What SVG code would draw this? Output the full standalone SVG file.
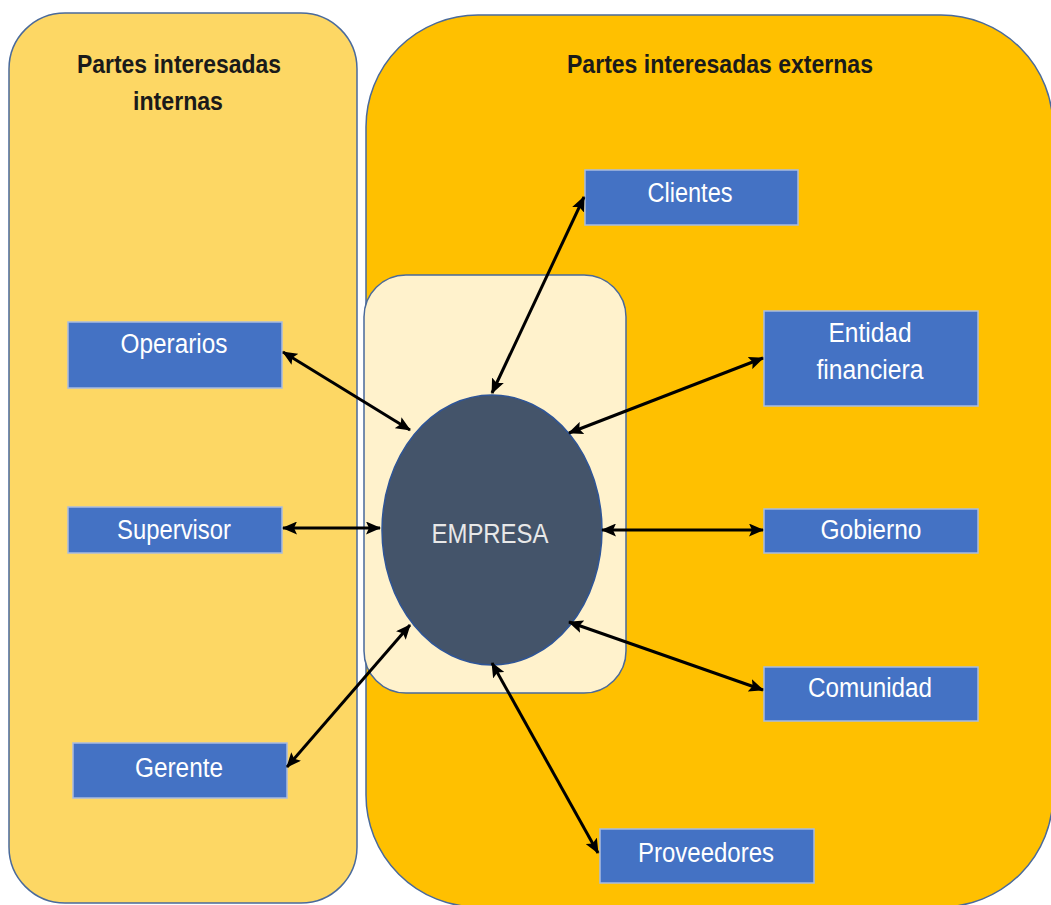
<svg xmlns="http://www.w3.org/2000/svg" width="1051" height="905" viewBox="0 0 1051 905">
<style>
.panel{stroke:#4a6a9b;stroke-width:1.5}
.box{fill:#4472c4;stroke:#a9bce0;stroke-width:1.5}
.title{font-family:"Liberation Sans",Arial,sans-serif;font-weight:bold;font-size:25px;fill:#1a1a1a;text-anchor:middle}
.lbl{font-family:"Liberation Sans",Arial,sans-serif;font-size:27px;fill:#ffffff;text-anchor:middle}
.conn line{stroke:#000;stroke-width:3;marker-start:url(#ah);marker-end:url(#ah)}
</style>
<defs>
<marker id="ah" markerUnits="userSpaceOnUse" markerWidth="15" markerHeight="13" viewBox="0 0 15 13" refX="14" refY="6.5" orient="auto-start-reverse">
<path d="M0,0 L15,6.5 L0,13 L3,6.5 Z" fill="#000"/>
</marker>
</defs>
<rect width="1051" height="905" fill="#ffffff"/>
<g id="panel-internas">
<rect class="panel" x="9" y="13" width="348" height="890" rx="56" fill="#fdd764"/>
<text class="title" x="179" y="73" textLength="204" lengthAdjust="spacingAndGlyphs">Partes interesadas</text>
<text class="title" x="178" y="110" textLength="90" lengthAdjust="spacingAndGlyphs">internas</text>
</g>
<g id="panel-externas">
<rect class="panel" x="366" y="15" width="687" height="892" rx="112" fill="#ffc000"/>
<text class="title" x="720" y="73" textLength="306" lengthAdjust="spacingAndGlyphs">Partes interesadas externas</text>
</g>
<g id="zona-empresa">
<rect class="panel" x="364" y="275" width="262" height="418" rx="42" fill="#fff2cc"/>
</g>
<g id="empresa">
<ellipse cx="492" cy="530" rx="110" ry="135" fill="#44546a" stroke="#2f5597" stroke-width="1.5"/>
<text class="lbl" x="490" y="543" style="fill:#e8e8e8" textLength="117" lengthAdjust="spacingAndGlyphs">EMPRESA</text>
</g>
<g id="operarios">
<rect class="box" x="68" y="322" width="214" height="66"/>
<text class="lbl" x="174" y="353" textLength="107" lengthAdjust="spacingAndGlyphs">Operarios</text>
</g>
<g id="supervisor">
<rect class="box" x="68" y="507" width="214" height="46"/>
<text class="lbl" x="174" y="539" textLength="114" lengthAdjust="spacingAndGlyphs">Supervisor</text>
</g>
<g id="gerente">
<rect class="box" x="73" y="743" width="214" height="55"/>
<text class="lbl" x="179" y="777" textLength="88" lengthAdjust="spacingAndGlyphs">Gerente</text>
</g>
<g id="clientes">
<rect class="box" x="585" y="170" width="213" height="55"/>
<text class="lbl" x="690" y="202" textLength="85" lengthAdjust="spacingAndGlyphs">Clientes</text>
</g>
<g id="entidad-financiera">
<rect class="box" x="764" y="311" width="214" height="95"/>
<text class="lbl" x="870" y="342" textLength="83" lengthAdjust="spacingAndGlyphs">Entidad</text>
<text class="lbl" x="870" y="379" textLength="107" lengthAdjust="spacingAndGlyphs">financiera</text>
</g>
<g id="gobierno">
<rect class="box" x="764" y="509" width="214" height="44"/>
<text class="lbl" x="871" y="539" textLength="101" lengthAdjust="spacingAndGlyphs">Gobierno</text>
</g>
<g id="comunidad">
<rect class="box" x="764" y="667" width="214" height="54"/>
<text class="lbl" x="870" y="697" textLength="124" lengthAdjust="spacingAndGlyphs">Comunidad</text>
</g>
<g id="proveedores">
<rect class="box" x="600" y="829" width="214" height="54"/>
<text class="lbl" x="706" y="862" textLength="136" lengthAdjust="spacingAndGlyphs">Proveedores</text>
</g>
<g id="connectors" class="conn">
<line x1="283" y1="352" x2="410" y2="430"/>
<line x1="283" y1="528" x2="380" y2="528"/>
<line x1="287" y1="767" x2="410" y2="625"/>
<line x1="584" y1="197" x2="492" y2="393"/>
<line x1="763" y1="358" x2="569" y2="433"/>
<line x1="602" y1="530" x2="763" y2="530"/>
<line x1="569" y1="622" x2="763" y2="690"/>
<line x1="492" y1="663" x2="598" y2="853"/>
</g>
</svg>
